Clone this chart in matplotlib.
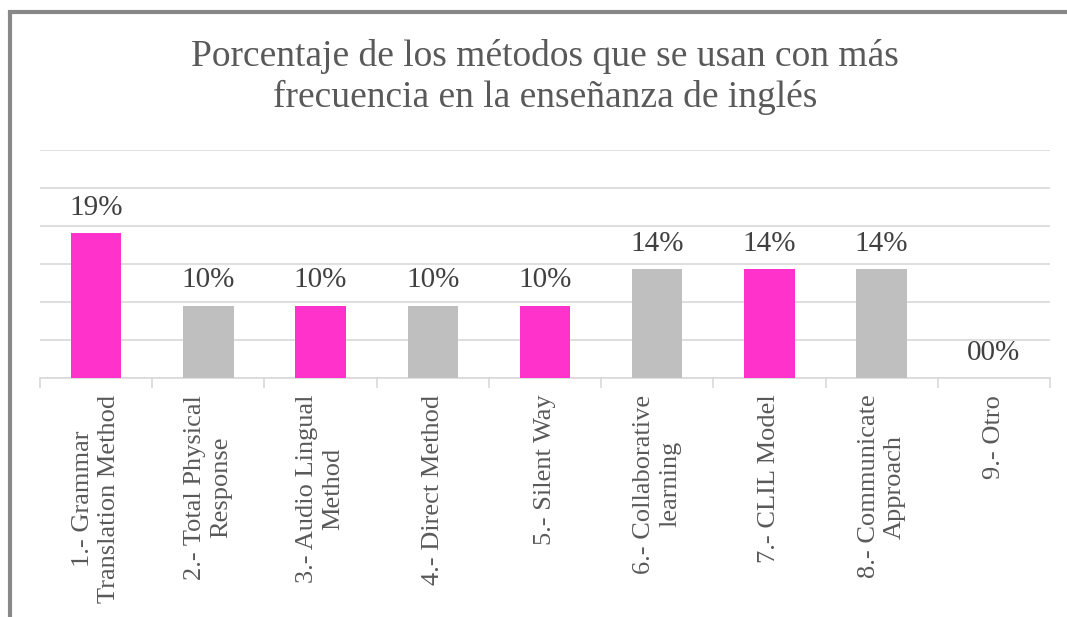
import numpy as np
import matplotlib
matplotlib.use("Agg")
import matplotlib.pyplot as plt
from matplotlib.patches import Rectangle

TITLE = "Porcentaje de los métodos que se usan con más\nfrecuencia en la enseñanza de inglés"
CATEGORIES = [
    "1.- Grammar\nTranslation Method",
    "2.- Total Physical\nResponse",
    "3.- Audio Lingual\nMethod",
    "4.- Direct Method",
    "5.- Silent Way",
    "6.- Collaborative\nlearning",
    "7.- CLIL Model",
    "8.- Communicate\nApproach",
    "9.- Otro",
]
VALUES = [19.05, 9.52, 9.52, 9.52, 9.52, 14.29, 14.29, 14.29, 0.0]
LABELS = ["19%", "10%", "10%", "10%", "10%", "14%", "14%", "14%", "00%"]
COLORS = ["#FF33CC", "#BFBFBF", "#FF33CC", "#BFBFBF", "#FF33CC",
          "#BFBFBF", "#FF33CC", "#BFBFBF", "#FF33CC"]

plt.rcParams['font.family'] = ['Liberation Serif', 'DejaVu Serif']

W, H = 1067, 617
fig = plt.figure(figsize=(W / 100, H / 100), dpi=100)

# chart frame (only top and left edges are visible in the crop)
fig.patches.append(Rectangle((9.5 / W, -0.1), 1.2, 1 - 11.5 / H + 0.1,
                             transform=fig.transFigure, fill=False,
                             edgecolor="#888888", linewidth=3))

ax = fig.add_axes([40 / W, 1 - 378 / H, (1050 - 40) / W, (378 - 150) / H])

x = np.arange(len(CATEGORIES))
bars = ax.bar(x, VALUES, width=0.45, color=COLORS, zorder=3)

for xi, v, lab in zip(x, VALUES, LABELS):
    ax.text(xi, v + 1.6, lab, ha="center", va="bottom", fontsize=21, color="#404040")

ax.set_xlim(-0.5, len(CATEGORIES) - 0.5)
ax.set_ylim(0, 30)
ax.set_yticks(np.arange(0, 31, 5))
ax.yaxis.grid(True, color="#D9D9D9", linewidth=1.2, zorder=0)
ax.tick_params(axis="y", left=False, labelleft=False)

ax.set_xticks(x)
ax.set_xticklabels(CATEGORIES, rotation=90, fontsize=19, color="#595959",
                   multialignment="center", linespacing=1.25)
ax.set_xticks(np.arange(-0.5, len(CATEGORIES)), minor=True)
ax.tick_params(axis="x", which="major", length=0, pad=12)
ax.tick_params(axis="x", which="minor", length=7, color="#D9D9D9", width=1.2)

for s in ["top", "right", "left"]:
    ax.spines[s].set_visible(False)
ax.spines["bottom"].set_color("#D9D9D9")
ax.spines["bottom"].set_linewidth(1.2)

fig.text(545 / W, 1 - 77 / H, TITLE, ha="center", va="center", fontsize=27,
         color="#595959", linespacing=1.25)

fig.savefig("out.png", dpi=100)
